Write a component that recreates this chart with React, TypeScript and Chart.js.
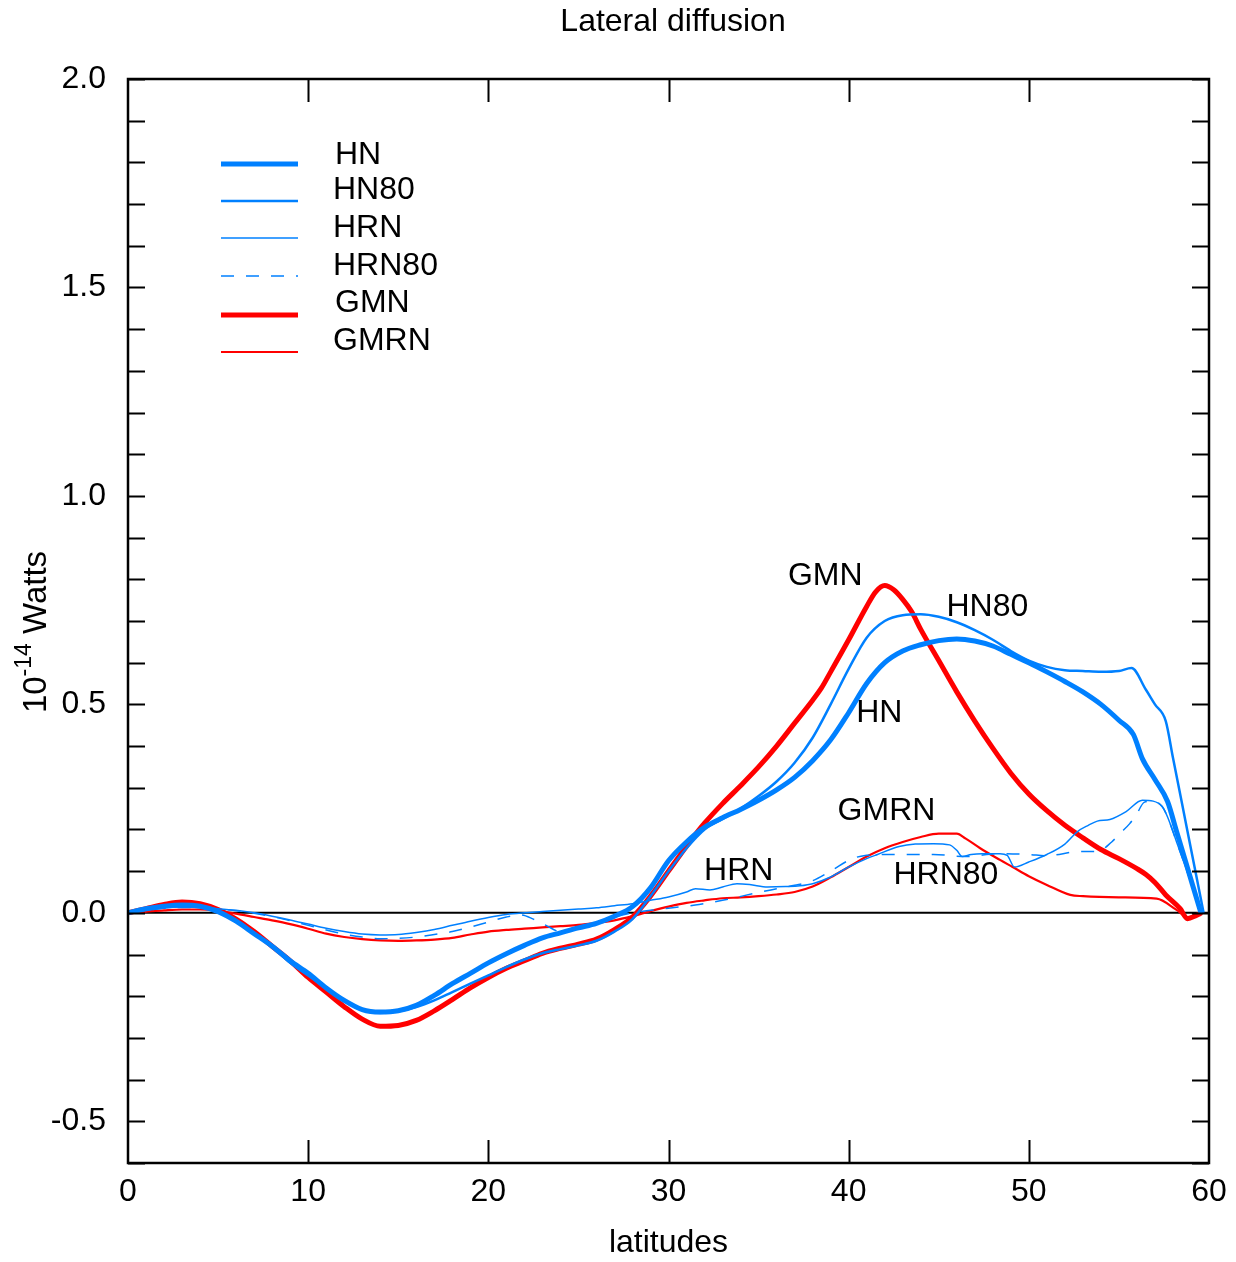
import React, { useEffect, useRef } from "react";
import { Chart, registerables } from "chart.js";

Chart.register(...registerables);

// Latitude samples and lateral-diffusion values (10^-14 W) for each run
const hnLat = [0,1,2,3,4,5,6,7,8,9,10,11,12,13,14,15,16,17,18,19,20,21,22,23,24,25,26,27,28,29,30,31,32,33,34,35,36,37,38,39,40,41,42,43,44,45,46,47,48,49,50,51,52,53,54,55,55.8,56.3,57,57.7,58.2,58.7,59.1,59.55];
const hnVal = [0,0.01,0.016,0.019,0.016,0.003,-0.02,-0.05,-0.08,-0.115,-0.145,-0.18,-0.21,-0.232,-0.238,-0.235,-0.222,-0.198,-0.17,-0.145,-0.12,-0.098,-0.078,-0.06,-0.048,-0.036,-0.025,-0.008,0.015,0.06,0.125,0.17,0.205,0.228,0.248,0.27,0.295,0.325,0.365,0.415,0.48,0.55,0.6,0.628,0.643,0.653,0.657,0.652,0.64,0.62,0.6,0.578,0.555,0.53,0.5,0.462,0.428,0.37,0.32,0.267,0.195,0.123,0.065,0];

const hn80Lat = [0,1,2,3,4,5,6,7,8,9,10,11,12,13,14,15,16,17,18,19,20,21,22,23,24,25,26,27,28,29,30,31,32,33,34,35,36,37,38,39,40,41,42,43,44,45,46,47,48,49,50,51,52,53,54,55,55.7,56.5,57,57.6,58,58.5,59,59.7];
const hn80Val = [0,0.01,0.016,0.019,0.016,0.003,-0.02,-0.05,-0.08,-0.12,-0.15,-0.18,-0.21,-0.232,-0.24,-0.236,-0.226,-0.21,-0.19,-0.17,-0.15,-0.13,-0.112,-0.097,-0.087,-0.078,-0.067,-0.045,-0.015,0.04,0.1,0.155,0.2,0.225,0.25,0.28,0.315,0.36,0.42,0.5,0.585,0.66,0.7,0.714,0.716,0.71,0.697,0.678,0.655,0.628,0.605,0.59,0.582,0.58,0.578,0.58,0.587,0.535,0.5,0.46,0.372,0.263,0.153,0];

const hrnLat = [0,1,2,3,4,5,6,7,8,9,10,11,12,13,14,15,16,17,18,19,20,21,22,23,24,25,26,27,28,29,30,31,31.5,32.3,33,33.8,34.5,35.5,36.5,37.3,38,39,40,41,41.6,42.8,43.7,44.7,45.6,46,46.3,46.8,47.4,48.4,48.8,49.2,50,51,52,52.7,53.3,53.8,54.5,55.4,56.3,56.9,57.4,57.7,58.2,58.7,59.1,59.6];
const hrnVal = [0,0.007,0.012,0.014,0.013,0.01,0.006,0,-0.008,-0.017,-0.027,-0.037,-0.045,-0.051,-0.053,-0.052,-0.047,-0.04,-0.03,-0.02,-0.011,-0.004,0,0.003,0.006,0.009,0.012,0.017,0.022,0.03,0.038,0.05,0.058,0.055,0.062,0.07,0.068,0.062,0.063,0.065,0.07,0.086,0.11,0.13,0.14,0.159,0.165,0.166,0.163,0.15,0.135,0.14,0.142,0.142,0.138,0.11,0.122,0.14,0.165,0.195,0.21,0.22,0.224,0.243,0.27,0.268,0.255,0.23,0.17,0.11,0.06,0];

const hrn80Lat = [0,1,2,3,4,5,6,7,8,9,10,11,12,13,14,15,16,17,18,19,20,21,21.8,22.5,23.2,24,25,26,27,28,29,30,31,31.7,33,34.7,36,37,38,39,40.2,41,41.9,44.7,46.5,48.4,50,51,52.8,53.8,54.6,55.05,55.6,56,56.4,56.9,57.4,57.7,58.2,58.7,59.1,59.6];
const hrn80Val = [0,0.006,0.011,0.013,0.012,0.01,0.005,-0.001,-0.009,-0.019,-0.03,-0.041,-0.051,-0.058,-0.062,-0.061,-0.058,-0.052,-0.045,-0.034,-0.022,-0.01,-0.005,-0.015,-0.03,-0.045,-0.036,-0.025,-0.01,0,0.006,0.011,0.016,0.02,0.03,0.046,0.058,0.066,0.077,0.1,0.13,0.138,0.14,0.14,0.135,0.142,0.14,0.137,0.147,0.147,0.17,0.19,0.214,0.238,0.265,0.268,0.255,0.23,0.17,0.11,0.06,0];

const gmnLat = [0,1,2,3,4,5,6,7,8,9,10,11,12,13,14,15,16,17,18,19,20,21,22,23,24,25,26,27,28,29,30,31,32,33,34,35,36,37,38,38.5,39,40,41,41.5,42,42.5,43,43.5,44,45,46,47,48,49,50,51,52,53,54,55,56,56.5,57,57.6,58.4,58.8,59.3,59.6];
const gmnVal = [0,0.01,0.02,0.026,0.022,0.008,-0.015,-0.045,-0.08,-0.115,-0.155,-0.19,-0.225,-0.255,-0.272,-0.27,-0.258,-0.235,-0.208,-0.18,-0.155,-0.133,-0.115,-0.097,-0.085,-0.075,-0.063,-0.04,-0.01,0.04,0.1,0.16,0.215,0.262,0.305,0.35,0.4,0.455,0.51,0.54,0.578,0.655,0.735,0.77,0.785,0.775,0.752,0.722,0.68,0.605,0.53,0.46,0.395,0.335,0.285,0.245,0.21,0.18,0.152,0.13,0.106,0.092,0.073,0.043,0.01,-0.014,-0.006,0];

const gmrnLat = [0,1,2,3,4,5,6,7,8,9,10,11,12,13,14,15,16,17,18,19,20,21,22,23,24,25,26,27,28,29,30,31,32,33,34,35,36,37,38,39,40,41,42,43,44,45,46,46.5,47.3,48.4,49.1,50,51,52.3,53,55,57.1,58.2,58.8,59.3,59.6];
const gmrnVal = [0,0.003,0.006,0.008,0.008,0.005,-0.002,-0.01,-0.018,-0.027,-0.038,-0.05,-0.058,-0.063,-0.066,-0.067,-0.066,-0.064,-0.06,-0.052,-0.045,-0.041,-0.038,-0.035,-0.032,-0.029,-0.024,-0.018,-0.008,0.004,0.015,0.024,0.03,0.035,0.037,0.04,0.044,0.05,0.063,0.085,0.11,0.135,0.155,0.17,0.182,0.19,0.19,0.178,0.155,0.127,0.11,0.088,0.067,0.043,0.04,0.037,0.034,0.007,-0.01,-0.006,0];

// Curve labels placed next to their curves: [text, latitude, value]
const curveLabels: [string, number, number][] = [
  ["GMN", 38.7, 0.808],
  ["HN80", 47.7, 0.733],
  ["HN", 41.7, 0.478],
  ["GMRN", 42.1, 0.245],
  ["HRN", 33.9, 0.099],
  ["HRN80", 45.4, 0.091],
];

const BLUE = "rgb(0,128,255)";
const RED = "rgb(255,0,0)";
const FONT = "'Liberation Sans', Arial, sans-serif";
const FS = 32;

const toPoints = (xs: number[], ys: number[]) => xs.map((x, i) => ({ x, y: ys[i] }));

const decorations = {
  id: "decorations",
  beforeDatasetsDraw(chart: any) {
    const { ctx, chartArea: a, scales } = chart;
    const y = scales.y;
    ctx.save();
    // zero line
    ctx.strokeStyle = "#000";
    ctx.lineWidth = 2;
    ctx.beginPath();
    ctx.moveTo(a.left, y.getPixelForValue(0));
    ctx.lineTo(a.right, y.getPixelForValue(0));
    ctx.stroke();
    ctx.restore();
  },
  afterDraw(chart: any) {
    const { ctx, chartArea: a, scales } = chart;
    const x = scales.x;
    const y = scales.y;
    ctx.save();
    ctx.strokeStyle = "#000";
    // inward ticks on y (both sides)
    ctx.lineWidth = 2;
    for (let i = -6; i <= 20; i++) {
      const py = Math.round(y.getPixelForValue(i / 10)) + 0.5;
      ctx.beginPath();
      ctx.moveTo(a.left, py);
      ctx.lineTo(a.left + 17, py);
      ctx.moveTo(a.right, py);
      ctx.lineTo(a.right - 17, py);
      ctx.stroke();
    }
    // inward ticks on x (top and bottom)
    for (let v = 10; v <= 50; v += 10) {
      const px = Math.round(x.getPixelForValue(v)) + 0.5;
      ctx.beginPath();
      ctx.moveTo(px, a.bottom);
      ctx.lineTo(px, a.bottom - 23);
      ctx.moveTo(px, a.top);
      ctx.lineTo(px, a.top + 23);
      ctx.stroke();
    }
    // frame
    ctx.lineWidth = 2.5;
    ctx.strokeRect(a.left, a.top, a.right - a.left, a.bottom - a.top);

    // title
    ctx.fillStyle = "#000";
    ctx.font = `${FS}px ${FONT}`;
    ctx.textAlign = "center";
    ctx.textBaseline = "middle";
    ctx.fillText("Lateral diffusion", 673, 22);

    // y axis title with superscript exponent
    ctx.save();
    ctx.translate(34, 632);
    ctx.rotate(-Math.PI / 2);
    ctx.textAlign = "left";
    ctx.textBaseline = "alphabetic";
    const big = `33px ${FONT}`;
    const small = `23px ${FONT}`;
    ctx.font = big;
    const w1 = ctx.measureText("10").width;
    ctx.font = small;
    const w2 = ctx.measureText("-14").width;
    ctx.font = big;
    const w3 = ctx.measureText(" Watts").width;
    const start = -(w1 + w2 + w3) / 2;
    ctx.font = big;
    ctx.fillText("10", start, 12);
    ctx.font = small;
    ctx.fillText("-14", start + w1, -3);
    ctx.font = big;
    ctx.fillText(" Watts", start + w1 + w2, 12);
    ctx.restore();

    // legend
    ctx.textAlign = "left";
    ctx.textBaseline = "middle";
    ctx.font = `${FS}px ${FONT}`;
    const labelYs = [155, 190, 228, 266, 303, 341];
    const lineYs = [164, 201, 238, 276, 315, 352];
    chart.data.datasets.forEach((ds: any, i: number) => {
      ctx.save();
      ctx.strokeStyle = ds.borderColor;
      ctx.lineWidth = ds.borderWidth;
      ctx.setLineDash(ds.borderDash || []);
      ctx.beginPath();
      ctx.moveTo(221, lineYs[i]);
      ctx.lineTo(298, lineYs[i]);
      ctx.stroke();
      ctx.restore();
      ctx.fillStyle = "#000";
      ctx.fillText(ds.label, i === 0 || i === 4 ? 335 : 333, labelYs[i]);
    });

    // curve labels
    ctx.textAlign = "center";
    curveLabels.forEach(([t, lx, ly]) => {
      ctx.fillText(t, x.getPixelForValue(lx), y.getPixelForValue(ly));
    });
    ctx.restore();
  },
};

export default function App() {
  const ref = useRef<HTMLCanvasElement>(null);

  useEffect(() => {
    if (!ref.current) return;
    const line = (label: string, xs: number[], ys: number[], color: string, width: number, dash?: number[]) => ({
      label,
      data: toPoints(xs, ys),
      borderColor: color,
      backgroundColor: color,
      borderWidth: width,
      borderDash: dash,
      pointRadius: 0,
      fill: false,
      cubicInterpolationMode: "monotone" as const,
    });
    const chart = new Chart(ref.current, {
      type: "line",
      data: {
        datasets: [
          line("HN", hnLat, hnVal, BLUE, 5),
          line("HN80", hn80Lat, hn80Val, BLUE, 2.5),
          line("HRN", hrnLat, hrnVal, BLUE, 1.5),
          line("HRN80", hrn80Lat, hrn80Val, BLUE, 1.5, [13, 12]),
          line("GMN", gmnLat, gmnVal, RED, 5),
          line("GMRN", gmrnLat, gmrnVal, RED, 2.2),
        ],
      },
      options: {
        responsive: false,
        animation: false,
        devicePixelRatio: 1,
        layout: { padding: { top: 79, right: 27, bottom: 0, left: 0 } },
        plugins: { legend: { display: false }, title: { display: false }, tooltip: { enabled: false } },
        scales: {
          x: {
            type: "linear",
            min: 0,
            max: 60,
            grid: { display: false },
            border: { display: false },
            ticks: { stepSize: 10, padding: 2, color: "#000", font: { family: FONT, size: FS }, maxRotation: 0 },
            title: { display: true, text: "latitudes", color: "#000", font: { family: FONT, size: FS }, padding: { top: 0, bottom: 0 } },
            afterFit: (s: any) => { s.height = 99; },
          },
          y: {
            type: "linear",
            min: -0.6,
            max: 2.0,
            grid: { display: false },
            border: { display: false },
            ticks: {
              stepSize: 0.1,
              autoSkip: false,
              padding: 14,
              color: "#000",
              font: { family: FONT, size: FS },
              callback: (v: any) => {
                const t = Math.round(Number(v) * 10);
                return t % 5 === 0 ? (t / 10).toFixed(1) : "";
              },
            },
            afterFit: (s: any) => { s.width = 128; },
          },
        },
      },
      plugins: [decorations],
    });
    return () => chart.destroy();
  }, []);

  return (
    <div style={{ position: "absolute", left: 0, top: 0, width: 1236, height: 1262, background: "#fff" }}>
      <canvas ref={ref} width={1236} height={1262} style={{ width: 1236, height: 1262 }} />
    </div>
  );
}
